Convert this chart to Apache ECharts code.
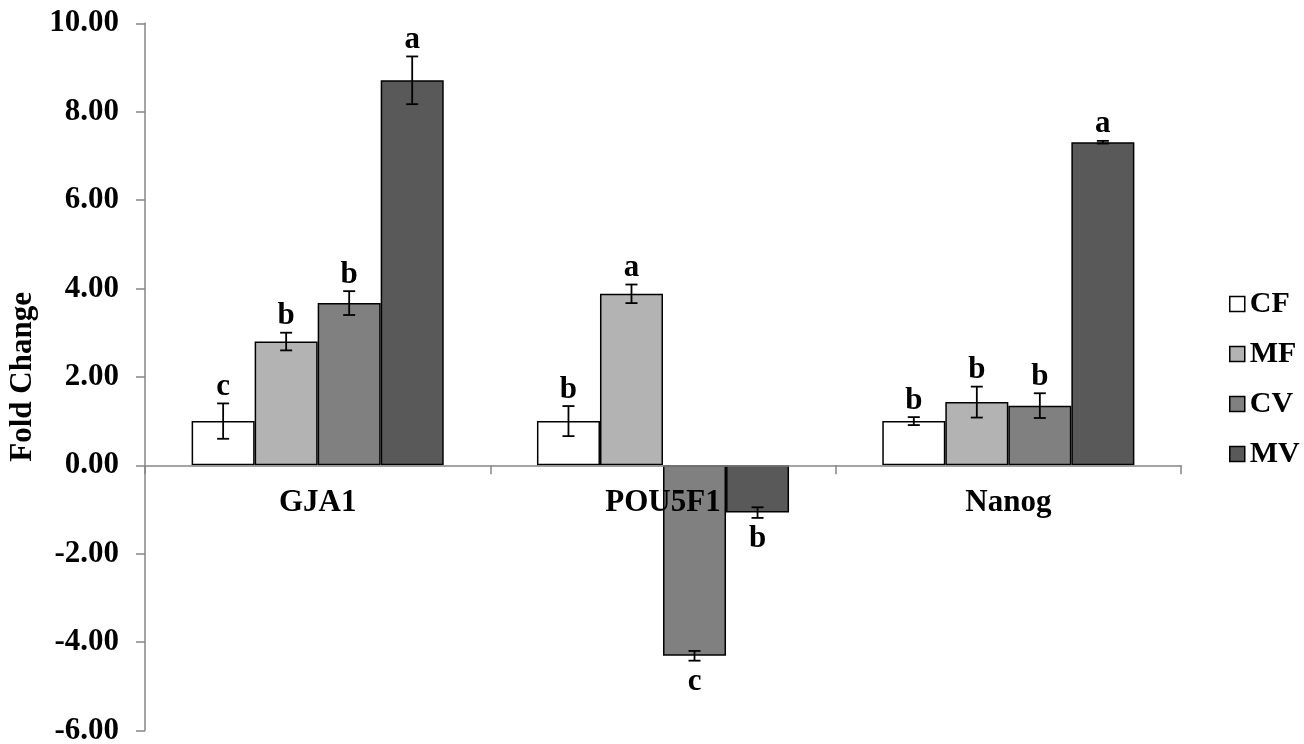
<!DOCTYPE html>
<html>
<head>
<meta charset="utf-8">
<script src="https://cdn.jsdelivr.net/npm/echarts@6/dist/echarts.min.js"></script>
<style>
html,body{margin:0;padding:0;background:#fff;}
#chart{width:1304px;height:744px;}
</style>
</head>
<body>
<div id="chart"></div>
<script>
// ---- data ----
const categories = ['GJA1', 'POU5F1', 'Nanog'];
const seriesNames = ['CF', 'MF', 'CV', 'MV'];
const valuesCF = [1.00, 1.00, 1.00];
const valuesMF = [2.80, 3.88, 1.43];
const valuesCV = [3.67, -4.31, 1.35];
const valuesMV = [8.71, -1.07, 7.31];
const errorsCF = [0.40, 0.34, 0.09];
const errorsMF = [0.20, 0.21, 0.35];
const errorsCV = [0.27, 0.11, 0.28];
const errorsMV = [0.54, 0.12, 0.03];
const lettersCF = ['c', 'b', 'b'];
const lettersMF = ['b', 'a', 'b'];
const lettersCV = ['b', 'c', 'b'];
const lettersMV = ['a', 'b', 'a'];
const yTickMin = -6, yTickMax = 10, yTickStep = 2;

const allValues = [valuesCF, valuesMF, valuesCV, valuesMV];
const allErrors = [errorsCF, errorsMF, errorsCV, errorsMV];
const allLetters = [lettersCF, lettersMF, lettersCV, lettersMV];
const barColors = ['#ffffff', '#b3b3b3', '#808080', '#595959'];
const FONT = '"Liberation Serif", "Times New Roman", serif';
const CAT_GAP = 0.27;

const chart = echarts.init(document.getElementById('chart'), null, {renderer: 'canvas'});

const series = [];
seriesNames.forEach((name, si) => {
  series.push({
    name: name,
    type: 'bar',
    data: allValues[si],
    barGap: '0%',
    barCategoryGap: (CAT_GAP * 100) + '%',
    itemStyle: {color: barColors[si], borderColor: '#000', borderWidth: 1.5},
    emphasis: {disabled: true},
    z: 2
  });
});
seriesNames.forEach((name, si) => {
  series.push({
    name: name + '-err',
    type: 'custom',
    z: 4,
    data: allValues[si].map((v, i) => [i, v, allErrors[si][i]]),
    encode: {x: 0, y: 1},
    renderItem: function (params, api) {
      const ci = api.value(0), v = api.value(1), e = api.value(2);
      const band = api.size([1, 0])[0];
      const bw = band * (1 - CAT_GAP) / 4;
      const cx = api.coord([ci, 0])[0] + (si - 1.5) * bw;
      const yHi = api.coord([ci, v + e])[1];
      const yLo = api.coord([ci, v - e])[1];
      const cap = 6;
      const st = {stroke: '#000', lineWidth: 1.8};
      const letter = allLetters[si][params.dataIndex];
      const pos = v >= 0;
      return {
        type: 'group',
        children: [
          {type: 'line', shape: {x1: cx, y1: yHi, x2: cx, y2: yLo}, style: st},
          {type: 'line', shape: {x1: cx - cap, y1: yHi, x2: cx + cap, y2: yHi}, style: st},
          {type: 'line', shape: {x1: cx - cap, y1: yLo, x2: cx + cap, y2: yLo}, style: st},
          {type: 'text', x: cx, y: pos ? yHi - 1 : yLo + 6,
            style: {text: letter, fill: '#000', font: 'bold 31px ' + FONT,
              align: 'center', verticalAlign: pos ? 'bottom' : 'top'}}
        ]
      };
    }
  });
});
// category labels drawn at the zero line (over the bars, as in the reference)
series.push({
  name: 'category-labels',
  type: 'custom',
  z: 6,
  data: categories.map((c, i) => [i, 0]),
  encode: {x: 0, y: 1},
  renderItem: function (params, api) {
    const p = api.coord([api.value(0), 0]);
    return {
      type: 'text', x: p[0], y: p[1] + 22,
      style: {text: categories[params.dataIndex], fill: '#000', font: 'bold 31px ' + FONT,
        align: 'center', verticalAlign: 'top'}
    };
  }
});

const option = {
  animation: false,
  backgroundColor: '#fff',
  grid: {left: 145, right: 123, top: 23.3, bottom: 13.5, outerBoundsMode: 'none'},
  legend: {
    data: seriesNames,
    orient: 'vertical',
    left: 1224,
    top: 284,
    itemWidth: 15,
    itemHeight: 15,
    itemGap: 20,
    icon: 'rect',
    selectedMode: false,
    itemStyle: {borderColor: '#000', borderWidth: 1.5},
    textStyle: {fontFamily: FONT, fontWeight: 'bold', fontSize: 30, color: '#000'}
  },
  xAxis: {
    type: 'category',
    data: categories,
    z: 3,
    axisLine: {onZero: true, lineStyle: {color: '#878787', width: 1.5}},
    axisTick: {show: true, alignWithLabel: false, length: 9, lineStyle: {color: '#878787', width: 1.5}},
    axisLabel: {show: false},
    splitLine: {show: false}
  },
  yAxis: {
    type: 'value',
    min: yTickMin,
    max: yTickMax,
    interval: yTickStep,
    name: 'Fold Change',
    nameLocation: 'middle',
    nameGap: 105,
    nameRotate: 90,
    nameTextStyle: {fontFamily: FONT, fontWeight: 'bold', fontSize: 31, color: '#000'},
    axisLine: {show: true, lineStyle: {color: '#878787', width: 1.5}},
    axisTick: {show: true, length: 9, lineStyle: {color: '#878787', width: 1.5}},
    axisLabel: {margin: 26, fontFamily: FONT, fontWeight: 'bold', fontSize: 31, color: '#000',
      formatter: v => v.toFixed(2)},
    splitLine: {show: false}
  },
  series: series
};
chart.setOption(option);
</script>
</body>
</html>
